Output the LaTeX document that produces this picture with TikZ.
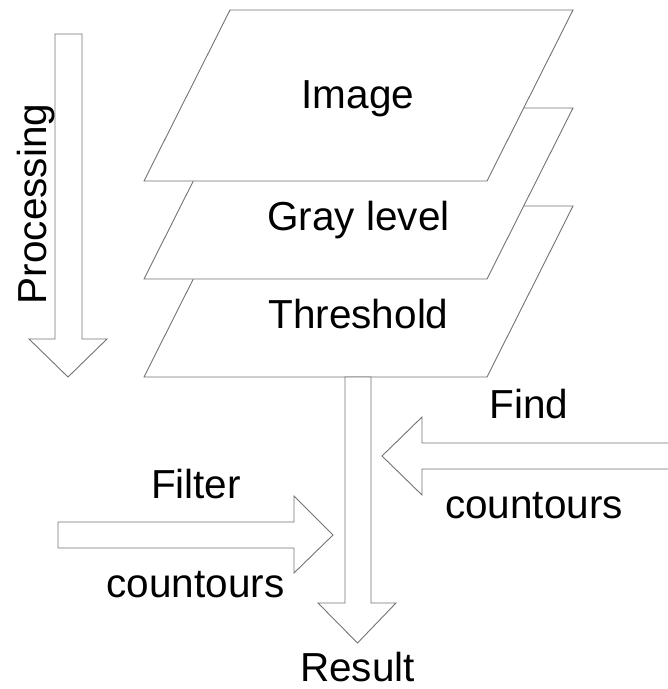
\documentclass[tikz,border=0pt]{standalone}
\usepackage{fontspec}
\setmainfont{Liberation Sans}
\begin{document}
\begin{tikzpicture}[x=1pt,y=-1pt,
  outl/.style={draw={rgb,255:red,115;green,115;blue,115}, line width=0.9pt, fill=white, line join=miter},
  lbl/.style={font=\fontsize{40.5}{48}\selectfont, inner sep=0pt, anchor=base}]
\useasboundingbox (0,0) rectangle (668,689);
% layers (bottom first)
\draw[outl] (230,206) -- (573,206) -- (487,377) -- (144,377) -- cycle;
\draw[outl] (230,108) -- (573,108) -- (487,279) -- (144,279) -- cycle;
\draw[outl] (230,10) -- (573,10) -- (487,181) -- (144,181) -- cycle;
\node[lbl] (image) at (358,108) {Image};
\node[lbl] (gray) at (358.5,230) {Gray level};
\node[lbl] (thresh) at (358.5,328) {Threshold};
% processing arrow
\draw[outl] (55,34) -- (82,34) -- (82,339) -- (107,339) -- (68,377) -- (29,339) -- (55,339) -- cycle;
\node[lbl, rotate=90] (proc) at (46,204) {Processing};
% main vertical arrow
\draw[outl] (345,377) -- (371,377) -- (371,603) -- (396,603) -- (357.5,643) -- (318,603) -- (345,603) -- cycle;
\node[lbl] (result) at (357.5,681) {Result};
% filter arrow
\draw[outl] (58,522) -- (294,522) -- (294,496) -- (333,535) -- (294,573) -- (294,548) -- (58,548) -- cycle;
\node[lbl] (filter) at (196,498) {Filter};
\node[lbl] (fcont) at (195.5,597) {countours};
% find arrow
\draw[outl] (672,443) -- (422,443) -- (422,417) -- (382,456) -- (422,495) -- (422,469) -- (672,469);
\node[lbl] (find) at (529,418) {Find};
\node[lbl] (rcont) at (534,518) {countours};
\end{tikzpicture}
\end{document}
